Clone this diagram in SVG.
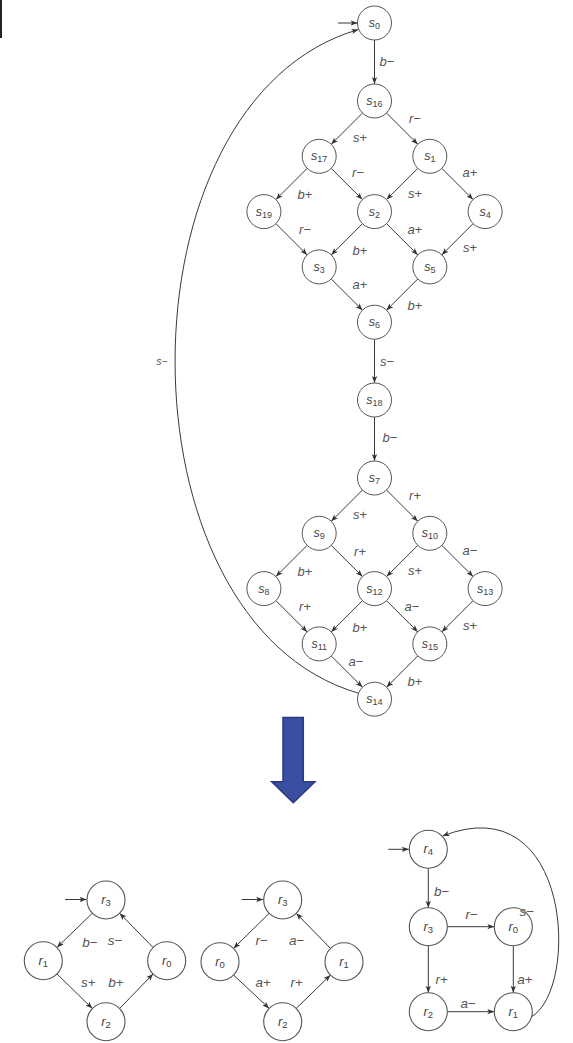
<svg xmlns="http://www.w3.org/2000/svg" width="573" height="1043" viewBox="0 0 573 1043">
  <defs>
    <marker id="ah" viewBox="0 0 10 10" refX="10" refY="5" markerWidth="7" markerHeight="7" orient="auto" markerUnits="userSpaceOnUse">
      <path d="M0,1.2 L10,5 L0,8.8 L2.5,5 z" fill="#333"/>
    </marker>
    <style>
      .n circle { fill: #fff; stroke: #555; stroke-width: 1; }
      .n text { font-family: "Liberation Sans", "DejaVu Sans", sans-serif; font-size: 12.5px; fill: #444; text-anchor: middle; }
      .n .v { font-style: italic; }
      .n .sub { font-size: 9px; }
      .e line, .e path { stroke: #3a3a3a; stroke-width: 1; fill: none; marker-end: url(#ah); }
      .lbl text { font-family: "Liberation Sans", "DejaVu Sans", sans-serif; font-size: 13px; fill: #555; text-anchor: middle; }
      .lbl .v { font-style: italic; }
      .big .n circle { stroke-width: 1.1; }
      .big .n text { font-size: 13px; }
      .big .n .sub { font-size: 9.5px; }
      .big .lbl text { font-size: 13.5px; }
    </style>
  </defs>
  <rect width="573" height="1043" fill="#fff"/>

  <!-- thin dark bar at the left border -->
  <rect x="0" y="0" width="2" height="38" fill="#222"/>

  <!-- ===== state graph s0 ... s19 ===== -->
  <g id="top-edges" class="e">
    <line x1="338" y1="23" x2="357.5" y2="23"/>
    <line x1="374.5" y1="40" x2="374.5" y2="84"/>
    <line x1="362.5" y1="113" x2="331.2" y2="144.3"/>
    <line x1="386.5" y1="113" x2="417.8" y2="144.3"/>
    <line x1="307.2" y1="168.3" x2="275.9" y2="199.6"/>
    <line x1="331.2" y1="168.3" x2="362.5" y2="199.6"/>
    <line x1="417.8" y1="168.3" x2="386.5" y2="199.6"/>
    <line x1="441.8" y1="168.3" x2="473.1" y2="199.6"/>
    <line x1="275.9" y1="223.6" x2="307.2" y2="254.9"/>
    <line x1="362.5" y1="223.6" x2="331.2" y2="254.9"/>
    <line x1="386.5" y1="223.6" x2="417.8" y2="254.9"/>
    <line x1="473.1" y1="223.6" x2="441.8" y2="254.9"/>
    <line x1="331.2" y1="278.9" x2="362.5" y2="310.2"/>
    <line x1="417.8" y1="278.9" x2="386.5" y2="310.2"/>
    <line x1="374.5" y1="339.2" x2="374.5" y2="383"/>
    <line x1="374.5" y1="417" x2="374.5" y2="461"/>
    <line x1="362.5" y1="490" x2="331.2" y2="521.3"/>
    <line x1="386.5" y1="490" x2="417.8" y2="521.3"/>
    <line x1="307.2" y1="545.3" x2="275.9" y2="576.6"/>
    <line x1="331.2" y1="545.3" x2="362.5" y2="576.6"/>
    <line x1="417.8" y1="545.3" x2="386.5" y2="576.6"/>
    <line x1="441.8" y1="545.3" x2="473.1" y2="576.6"/>
    <line x1="275.9" y1="600.6" x2="307.2" y2="631.9"/>
    <line x1="362.5" y1="600.6" x2="331.2" y2="631.9"/>
    <line x1="386.5" y1="600.6" x2="417.8" y2="631.9"/>
    <line x1="473.1" y1="600.6" x2="441.8" y2="631.9"/>
    <line x1="331.2" y1="655.9" x2="362.5" y2="687.2"/>
    <line x1="417.8" y1="655.9" x2="386.5" y2="687.2"/>
    <path d="M358,693 C114,622 114,100 358.5,29.5"/>
  </g>

  <g id="s0" class="n"><circle cx="374.5" cy="23" r="17"/><text x="374.5" y="27"><tspan class="v">s</tspan><tspan class="sub" dy="2">0</tspan></text></g>
  <g id="s16" class="n"><circle cx="374.5" cy="101" r="17"/><text x="374.5" y="105"><tspan class="v">s</tspan><tspan class="sub" dy="2">16</tspan></text></g>
  <g id="s17" class="n"><circle cx="319.2" cy="156.3" r="17"/><text x="319.2" y="160.3"><tspan class="v">s</tspan><tspan class="sub" dy="2">17</tspan></text></g>
  <g id="s1" class="n"><circle cx="429.8" cy="156.3" r="17"/><text x="429.8" y="160.3"><tspan class="v">s</tspan><tspan class="sub" dy="2">1</tspan></text></g>
  <g id="s19" class="n"><circle cx="263.9" cy="211.6" r="17"/><text x="263.9" y="215.6"><tspan class="v">s</tspan><tspan class="sub" dy="2">19</tspan></text></g>
  <g id="s2" class="n"><circle cx="374.5" cy="211.6" r="17"/><text x="374.5" y="215.6"><tspan class="v">s</tspan><tspan class="sub" dy="2">2</tspan></text></g>
  <g id="s4" class="n"><circle cx="485.1" cy="211.6" r="17"/><text x="485.1" y="215.6"><tspan class="v">s</tspan><tspan class="sub" dy="2">4</tspan></text></g>
  <g id="s3" class="n"><circle cx="319.2" cy="266.9" r="17"/><text x="319.2" y="270.9"><tspan class="v">s</tspan><tspan class="sub" dy="2">3</tspan></text></g>
  <g id="s5" class="n"><circle cx="429.8" cy="266.9" r="17"/><text x="429.8" y="270.9"><tspan class="v">s</tspan><tspan class="sub" dy="2">5</tspan></text></g>
  <g id="s6" class="n"><circle cx="374.5" cy="322.2" r="17"/><text x="374.5" y="326.2"><tspan class="v">s</tspan><tspan class="sub" dy="2">6</tspan></text></g>
  <g id="s18" class="n"><circle cx="374.5" cy="400" r="17"/><text x="374.5" y="404"><tspan class="v">s</tspan><tspan class="sub" dy="2">18</tspan></text></g>
  <g id="s7" class="n"><circle cx="374.5" cy="478" r="17"/><text x="374.5" y="482"><tspan class="v">s</tspan><tspan class="sub" dy="2">7</tspan></text></g>
  <g id="s9" class="n"><circle cx="319.2" cy="533.3" r="17"/><text x="319.2" y="537.3"><tspan class="v">s</tspan><tspan class="sub" dy="2">9</tspan></text></g>
  <g id="s10" class="n"><circle cx="429.8" cy="533.3" r="17"/><text x="429.8" y="537.3"><tspan class="v">s</tspan><tspan class="sub" dy="2">10</tspan></text></g>
  <g id="s8" class="n"><circle cx="263.9" cy="588.6" r="17"/><text x="263.9" y="592.6"><tspan class="v">s</tspan><tspan class="sub" dy="2">8</tspan></text></g>
  <g id="s12" class="n"><circle cx="374.5" cy="588.6" r="17"/><text x="374.5" y="592.6"><tspan class="v">s</tspan><tspan class="sub" dy="2">12</tspan></text></g>
  <g id="s13" class="n"><circle cx="485.1" cy="588.6" r="17"/><text x="485.1" y="592.6"><tspan class="v">s</tspan><tspan class="sub" dy="2">13</tspan></text></g>
  <g id="s11" class="n"><circle cx="319.2" cy="643.9" r="17"/><text x="319.2" y="647.9"><tspan class="v">s</tspan><tspan class="sub" dy="2">11</tspan></text></g>
  <g id="s15" class="n"><circle cx="429.8" cy="643.9" r="17"/><text x="429.8" y="647.9"><tspan class="v">s</tspan><tspan class="sub" dy="2">15</tspan></text></g>
  <g id="s14" class="n"><circle cx="374.5" cy="699.2" r="17"/><text x="374.5" y="703.2"><tspan class="v">s</tspan><tspan class="sub" dy="2">14</tspan></text></g>

  <g id="top-labels" class="lbl">
    <text x="387" y="66"><tspan class="v">b</tspan>−</text>
    <text x="360" y="142"><tspan class="v">s</tspan>+</text>
    <text x="415" y="123"><tspan class="v">r</tspan>−</text>
    <text x="305" y="199"><tspan class="v">b</tspan>+</text>
    <text x="358" y="177"><tspan class="v">r</tspan>−</text>
    <text x="415" y="198"><tspan class="v">s</tspan>+</text>
    <text x="470" y="177"><tspan class="v">a</tspan>+</text>
    <text x="305" y="234"><tspan class="v">r</tspan>−</text>
    <text x="360" y="255"><tspan class="v">b</tspan>+</text>
    <text x="415" y="234"><tspan class="v">a</tspan>+</text>
    <text x="470" y="252"><tspan class="v">s</tspan>+</text>
    <text x="360" y="289"><tspan class="v">a</tspan>+</text>
    <text x="415" y="310"><tspan class="v">b</tspan>+</text>
    <text x="387" y="366"><tspan class="v">s</tspan>−</text>
    <text x="390" y="442"><tspan class="v">b</tspan>−</text>
    <text x="360" y="519"><tspan class="v">s</tspan>+</text>
    <text x="415" y="500"><tspan class="v">r</tspan>+</text>
    <text x="305" y="576"><tspan class="v">b</tspan>+</text>
    <text x="360" y="556"><tspan class="v">r</tspan>+</text>
    <text x="415" y="575"><tspan class="v">s</tspan>+</text>
    <text x="470" y="555"><tspan class="v">a</tspan>−</text>
    <text x="305" y="611"><tspan class="v">r</tspan>+</text>
    <text x="360" y="632"><tspan class="v">b</tspan>+</text>
    <text x="412" y="611"><tspan class="v">a</tspan>−</text>
    <text x="470" y="630"><tspan class="v">s</tspan>+</text>
    <text x="356" y="666"><tspan class="v">a</tspan>−</text>
    <text x="415" y="686"><tspan class="v">b</tspan>+</text>
    <text x="162" y="365" style="font-size:10.5px"><tspan class="v">s</tspan>−</text>
  </g>

  <!-- ===== block arrow ===== -->
  <g id="down-arrow">
    <path d="M283,717.5 L303.3,717.5 L303.3,781.7 L315,781.7 L293.3,802.7 L271.7,781.7 L283,781.7 Z" fill="#3b4fa2" stroke="#2a3a80" stroke-width="1.5" stroke-linejoin="miter"/>
  </g>

  <!-- ===== three reduced graphs ===== -->
  <g class="big">
    <g id="bottom-edges" class="e">
      <!-- left graph -->
      <line x1="65" y1="899.5" x2="86.5" y2="899.5"/>
      <line x1="92.4" y1="913.2" x2="56.9" y2="947.5"/>
      <line x1="56.9" y1="973.9" x2="92.4" y2="1008.5"/>
      <line x1="119.6" y1="1008.5" x2="153.1" y2="973.9"/>
      <line x1="153.1" y1="947.5" x2="119.6" y2="913.2"/>
      <!-- middle graph -->
      <line x1="241.7" y1="899.5" x2="263.2" y2="899.5"/>
      <line x1="269.2" y1="913.3" x2="233.5" y2="948.4"/>
      <line x1="233.5" y1="975" x2="269.2" y2="1008.4"/>
      <line x1="296.2" y1="1008.4" x2="330.5" y2="975"/>
      <line x1="330.5" y1="948.4" x2="296.2" y2="913.3"/>
      <!-- right graph -->
      <line x1="388.3" y1="849.3" x2="408.8" y2="849.3"/>
      <line x1="428.3" y1="868.3" x2="428.3" y2="907.7"/>
      <line x1="447.3" y1="926.7" x2="494.3" y2="926.7"/>
      <line x1="428.3" y1="945.7" x2="428.3" y2="992.7"/>
      <line x1="513.3" y1="945.7" x2="513.3" y2="992.7"/>
      <line x1="447.3" y1="1011.7" x2="494.3" y2="1011.7"/>
      <path d="M531,1017 C580,990 572,785 442.5,836"/>
    </g>

    <g id="L-r3" class="n"><circle cx="106" cy="900" r="19"/><text x="106" y="904"><tspan class="v">r</tspan><tspan class="sub" dy="2">3</tspan></text></g>
    <g id="L-r1" class="n"><circle cx="43.3" cy="960.7" r="19"/><text x="43.3" y="964.7"><tspan class="v">r</tspan><tspan class="sub" dy="2">1</tspan></text></g>
    <g id="L-r0" class="n"><circle cx="166.7" cy="960.7" r="19"/><text x="166.7" y="964.7"><tspan class="v">r</tspan><tspan class="sub" dy="2">0</tspan></text></g>
    <g id="L-r2" class="n"><circle cx="106" cy="1021.7" r="19"/><text x="106" y="1025.7"><tspan class="v">r</tspan><tspan class="sub" dy="2">2</tspan></text></g>

    <g id="M-r3" class="n"><circle cx="282.7" cy="900" r="19"/><text x="282.7" y="904"><tspan class="v">r</tspan><tspan class="sub" dy="2">3</tspan></text></g>
    <g id="M-r0" class="n"><circle cx="220" cy="961.7" r="19"/><text x="220" y="965.7"><tspan class="v">r</tspan><tspan class="sub" dy="2">0</tspan></text></g>
    <g id="M-r1" class="n"><circle cx="344" cy="961.7" r="19"/><text x="344" y="965.7"><tspan class="v">r</tspan><tspan class="sub" dy="2">1</tspan></text></g>
    <g id="M-r2" class="n"><circle cx="282.7" cy="1021.7" r="19"/><text x="282.7" y="1025.7"><tspan class="v">r</tspan><tspan class="sub" dy="2">2</tspan></text></g>

    <g id="R-r4" class="n"><circle cx="428.3" cy="849.3" r="19"/><text x="428.3" y="853.3"><tspan class="v">r</tspan><tspan class="sub" dy="2">4</tspan></text></g>
    <g id="R-r3" class="n"><circle cx="428.3" cy="926.7" r="19"/><text x="428.3" y="930.7"><tspan class="v">r</tspan><tspan class="sub" dy="2">3</tspan></text></g>
    <g id="R-r0" class="n"><circle cx="513.3" cy="926.7" r="19"/><text x="513.3" y="930.7"><tspan class="v">r</tspan><tspan class="sub" dy="2">0</tspan></text></g>
    <g id="R-r2" class="n"><circle cx="428.3" cy="1011.7" r="19"/><text x="428.3" y="1015.7"><tspan class="v">r</tspan><tspan class="sub" dy="2">2</tspan></text></g>
    <g id="R-r1" class="n"><circle cx="513.3" cy="1011.7" r="19"/><text x="513.3" y="1015.7"><tspan class="v">r</tspan><tspan class="sub" dy="2">1</tspan></text></g>

    <g id="bottom-labels" class="lbl">
      <text x="90" y="947"><tspan class="v">b</tspan>−</text>
      <text x="115" y="945"><tspan class="v">s</tspan>−</text>
      <text x="88.3" y="986.5"><tspan class="v">s</tspan>+</text>
      <text x="116" y="986.5"><tspan class="v">b</tspan>+</text>

      <text x="261.7" y="945"><tspan class="v">r</tspan>−</text>
      <text x="296.7" y="945"><tspan class="v">a</tspan>−</text>
      <text x="263.3" y="986.5"><tspan class="v">a</tspan>+</text>
      <text x="296.7" y="986.5"><tspan class="v">r</tspan>+</text>

      <text x="441.7" y="896"><tspan class="v">b</tspan>−</text>
      <text x="471.7" y="919"><tspan class="v">r</tspan>−</text>
      <text x="526.7" y="915.5"><tspan class="v">s</tspan>−</text>
      <text x="441.7" y="984"><tspan class="v">r</tspan>+</text>
      <text x="525" y="984"><tspan class="v">a</tspan>+</text>
      <text x="468.3" y="1007.5"><tspan class="v">a</tspan>−</text>
    </g>
  </g>
</svg>
